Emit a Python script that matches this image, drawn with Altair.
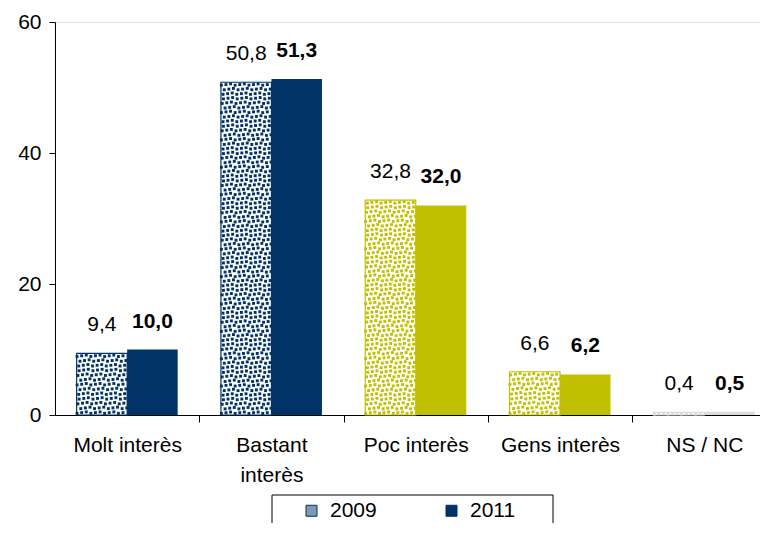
import json
import altair as alt
import pandas as pd

categories = ["Molt interès", "Bastant interès", "Poc interès", "Gens interès", "NS / NC"]
axis_label_lines = [["Molt interès"], ["Bastant", "interès"], ["Poc interès"], ["Gens interès"], ["NS / NC"]]
years = ["2009", "2011"]
values_2009 = [9.4, 50.8, 32.8, 6.6, 0.4]
values_2011 = [10.0, 51.3, 32.0, 6.2, 0.5]
category_colors = ["#003366", "#003366", "#C0C000", "#C0C000", "#DCDCDC"]
y_ticks = [0, 20, 40, 60]
legend_colors = ["#7F97B0", "#003366"]

rows = []
for i, cat in enumerate(categories):
    for year, vals in zip(years, [values_2009, values_2011]):
        rows.append({"idx": i, "category": cat, "year": year,
                     "value": vals[i], "color": category_colors[i]})
df = pd.DataFrame(rows)

FONT = "Liberation Sans"
BAR_W = 0.35
PX_PER_UNIT = 144.3
W = 705
H = 393
x_scale = alt.Scale(domain=[-0.5, W / PX_PER_UNIT - 0.5], nice=False, zero=False)
y_scale = alt.Scale(domain=[0, 60], nice=False, zero=True)

x_axis = alt.Axis(values=[0, 1, 2, 3, 4], labelExpr=json.dumps(axis_label_lines, ensure_ascii=False) + "[datum.value]",
                  title=None, tickSize=7, tickOffset=PX_PER_UNIT / 2, labelOffset=-PX_PER_UNIT / 2,
                  labelPadding=12, labelFontSize=21, labelLineHeight=30, labelFont=FONT,
                  labelColor="#000", domainColor="#000", tickColor="#000", grid=False,
                  labelBaseline="top", labelAlign="center", labelFlush=False, labelOverlap=False)
y_axis = alt.Axis(values=y_ticks, title=None, tickSize=6, labelPadding=8, labelFontSize=21,
                  labelFont=FONT, labelColor="#000", domainColor="#000", tickColor="#000",
                  grid=False, format="d")


def X(field):
    return alt.X(field, type="quantitative", scale=x_scale, axis=x_axis)


def Y(field):
    return alt.Y(field, type="quantitative", scale=y_scale, axis=y_axis)


base = alt.Chart(df).transform_calculate(
    x0=f"datum.idx + (datum.year == '2009' ? {-BAR_W} : 0)",
    x1=f"datum.idx + (datum.year == '2009' ? 0 : {BAR_W})",
    xm=f"datum.idx + (datum.year == '2009' ? {-BAR_W / 2} : {BAR_W / 2})",
    label="replace(format(datum.value, '.1f'), '.', ',')",
)

bars_2009 = base.transform_filter(alt.datum.year == "2009").mark_rect(fill="white", strokeWidth=1.2).encode(
    x=X("x0"), x2="x1", y=Y("value"), y2=alt.datum(0),
    stroke=alt.Stroke("color:N", scale=None),
)

# dotted texture of the 2009 bars
STEP_PX = 4.5
N_COLS = 11
COL_STEP = BAR_W / N_COLS
dots = base.transform_filter(alt.datum.year == "2009").transform_calculate(
    nrows=f"max(1, floor(datum.value * {H / 60} / {STEP_PX}))"
).transform_calculate(
    r="sequence(0, datum.nrows)"
).transform_flatten(["r"]).transform_calculate(
    c=f"sequence(0, {N_COLS})"
).transform_flatten(["c"]).transform_calculate(
    dx=f"datum.x0 + (datum.c + 0.5 + ((datum.r % 2) - 0.5) * 0.45 + (((datum.r * 5 + datum.c * 3) % 3) - 1) * 0.18) * {COL_STEP}",
    dy="min(datum.value - 0.15, max(0.15, (datum.r + 0.5 + (((datum.r * 3 + datum.c * 7) % 3) - 1) * 0.15) * datum.value / datum.nrows))",
).mark_square(size=8.5, opacity=1, strokeWidth=0).encode(
    x=X("dx"), y=Y("dy"), fill=alt.Fill("color:N", scale=None),
)

bars_2011 = base.transform_filter(alt.datum.year == "2011").mark_rect().encode(
    x=X("x0"), x2="x1", y=Y("value"), y2=alt.datum(0),
    fill=alt.Fill("color:N", scale=None),
)

text_2009 = base.transform_filter(alt.datum.year == "2009").mark_text(
    font=FONT, fontSize=21, baseline="alphabetic", dy=-22, color="#000"
).encode(x=X("xm"), y=Y("value"), text="label:N")

text_2011 = base.transform_filter(alt.datum.year == "2011").mark_text(
    font=FONT, fontSize=21, fontWeight="bold", baseline="alphabetic", dy=-22, color="#000"
).encode(x=X("xm"), y=Y("value"), text="label:N")

legend_layer = alt.Chart(pd.DataFrame({"year": years})).mark_square(
    opacity=1, stroke="#003366", strokeWidth=1
).encode(
    x=alt.value(-300), y=alt.value(-300),
    color=alt.Color("year:N", scale=alt.Scale(domain=years, range=legend_colors),
                    legend=alt.Legend(title=None, orient="none", legendX=246, legendY=478,
                                      direction="horizontal", symbolType="square", symbolSize=121,
                                      symbolStrokeWidth=1, symbolStrokeColor="#003366",
                                      labelFontSize=21, labelFont=FONT, labelColor="#000",
                                      labelOffset=8, columnPadding=64, padding=0, symbolOpacity=1)),
)

legend_box = alt.Chart(pd.DataFrame({"k": [0]})).mark_rect(
    fillOpacity=0, stroke="#000", strokeWidth=1
).encode(x=alt.value(217), x2=alt.value(498), y=alt.value(473), y2=alt.value(560))

chart = alt.layer(
    bars_2009, dots, bars_2011, text_2009, text_2011, legend_layer, legend_box
).properties(
    width=W, height=H, autosize="none",
    padding={"left": 47, "top": 14, "right": 0, "bottom": 108},
).configure_view(stroke=None).configure(font=FONT)

chart.save("out.html", embed_options={"renderer": "svg", "actions": False})
